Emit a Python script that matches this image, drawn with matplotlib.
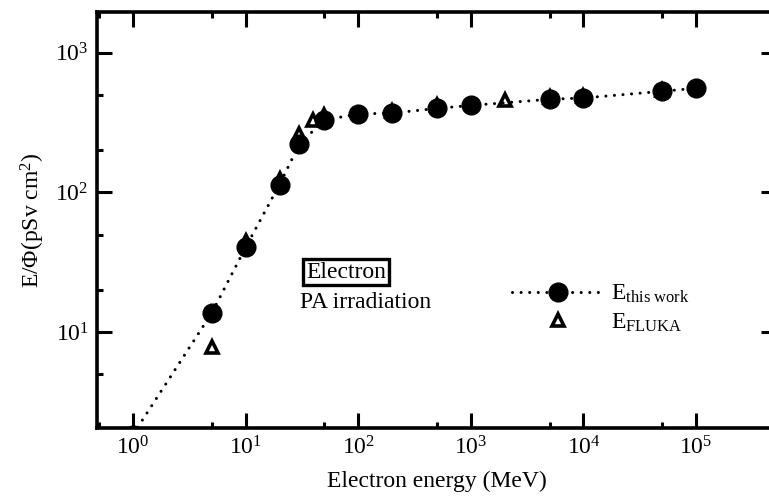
import matplotlib
matplotlib.use("Agg")
import matplotlib.pyplot as plt
from matplotlib.ticker import LogLocator, FixedLocator, NullFormatter

# ---- data ----
energy_this = [1, 5, 10, 20, 30, 50, 100, 200, 500, 1000, 5000, 10000, 50000, 100000]
dose_this = [1.85, 13.7, 40.5, 114, 222, 330, 365, 370, 400, 420, 465, 475, 530, 558]

energy_fluka = [5, 10, 20, 30, 40, 50, 200, 500, 2000, 5000, 10000, 50000]
dose_fluka = [7.8, 45, 124, 263, 328, 358, 385, 420, 456, 480, 490, 545]

x_major = [1e0, 1e1, 1e2, 1e3, 1e4, 1e5]
x_minor = [5e-1, 5e0, 5e1, 5e2, 5e3, 5e4, 5e5]
y_major = [1e1, 1e2, 1e3]

xlabel = "Electron energy (MeV)"
ylabel = r"E/$\Phi$(pSv cm$^2$)"
label_this = r"E$_{\rm this\ work}$"
label_fluka = r"E$_{\rm FLUKA}$"

plt.rcParams["font.family"] = ["Liberation Serif", "DejaVu Serif"]
plt.rcParams["mathtext.fontset"] = "custom"
plt.rcParams["mathtext.rm"] = "Liberation Serif"
plt.rcParams["mathtext.it"] = "Liberation Serif:italic"
plt.rcParams["mathtext.bf"] = "Liberation Serif:bold"

FS = 17

fig = plt.figure(figsize=(7.69, 4.96), dpi=100)
ax = fig.add_axes([97 / 769, 1 - 428 / 496, (776 - 97) / 769, (428 - 12) / 496])

ax.plot(energy_fluka, dose_fluka, linestyle="none", marker="^", markersize=9,
        markerfacecolor="white", markeredgecolor="black", markeredgewidth=2.6,
        label=label_fluka, zorder=3)
ax.plot(energy_this, dose_this, color="black", linewidth=2.2,
        linestyle=(0, (0.01, 2.8)), dash_capstyle="round",
        marker="o", markersize=13.5, markerfacecolor="black",
        markeredgecolor="black", label=label_this, zorder=4)

ax.set_xscale("log")
ax.set_yscale("log")
ax.set_xlim(10 ** -0.32, 10 ** 5.71)
ax.set_ylim(2.06, 1960)

ax.xaxis.set_major_locator(FixedLocator(x_major))
ax.xaxis.set_minor_locator(FixedLocator(x_minor))
ax.yaxis.set_major_locator(FixedLocator(y_major))
ax.yaxis.set_minor_locator(LogLocator(base=10, subs=(2.0, 5.0)))
ax.xaxis.set_minor_formatter(NullFormatter())
ax.yaxis.set_minor_formatter(NullFormatter())
ax.set_xticklabels([r"$10^{%d}$" % i for i in range(0, 6)])
ax.set_yticklabels([r"$10^{%d}$" % i for i in range(1, 4)])

ax.tick_params(which="both", direction="in", top=True, right=True,
               labelsize=FS, width=2.2, color="black")
ax.tick_params(which="major", length=11, pad=6)
ax.tick_params(which="minor", length=4)

for side in ["left", "bottom", "top"]:
    ax.spines[side].set_linewidth(2.6)
ax.spines["right"].set_visible(False)

ax.set_xlabel(xlabel, fontsize=FS, labelpad=8)
ax.set_ylabel(ylabel, fontsize=FS, labelpad=6)

fig.text(346 / 769, 1 - 272 / 496, "Electron", fontsize=FS, ha="center", va="center",
         bbox=dict(boxstyle="square,pad=0.12", facecolor="white",
                   edgecolor="black", linewidth=2.4))
fig.text(300 / 769, 1 - 302 / 496, "PA irradiation", fontsize=FS,
         ha="left", va="center")

handles, labels = ax.get_legend_handles_labels()
leg = ax.legend([handles[1], handles[0]], [labels[1], labels[0]],
                loc="upper left", bbox_to_anchor=(512 / 769, 1 - 283 / 496),
                bbox_transform=fig.transFigure, frameon=False, fontsize=FS,
                handlelength=3.9, handletextpad=0.3, labelspacing=0.25,
                borderpad=0, borderaxespad=0, numpoints=1)

fig.savefig("out.png", dpi=100)
